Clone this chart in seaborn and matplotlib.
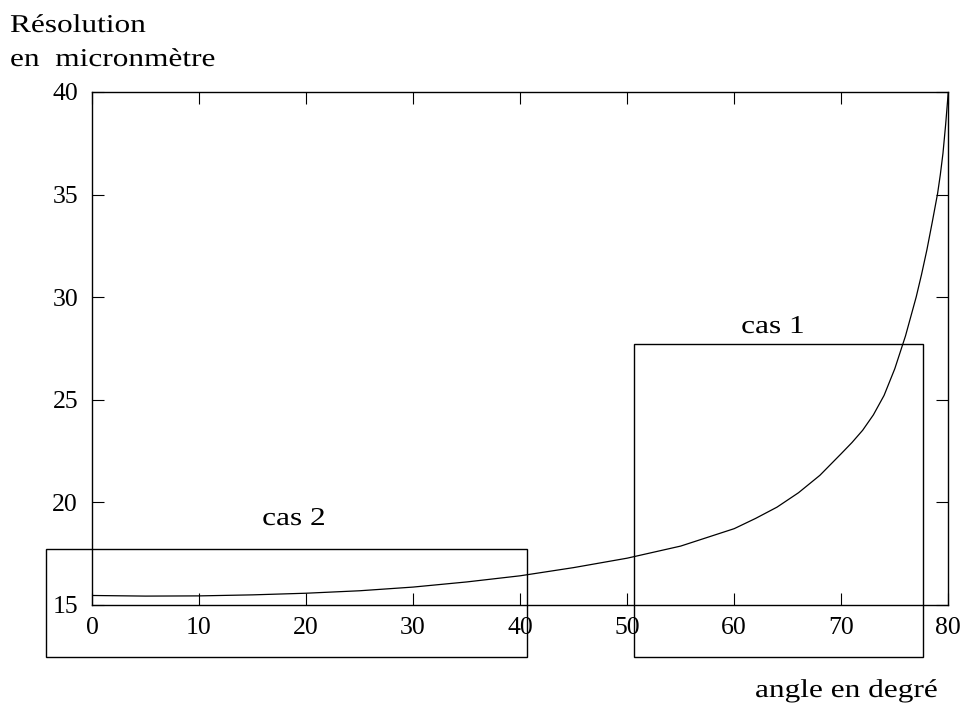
import matplotlib
matplotlib.use("Agg")
import matplotlib.pyplot as plt
import seaborn as sns
import pandas as pd
from matplotlib.patches import Rectangle
from matplotlib.patheffects import AbstractPathEffect
from matplotlib.transforms import Affine2D

# --- data ---
angle = [0, 5, 10, 15, 20, 25, 30, 35, 40, 45, 50, 55, 60, 62, 64, 66, 68,
         70, 71, 72, 73, 74, 75, 76, 77, 77.5, 78, 78.5, 79, 79.25, 79.5,
         79.75, 80]
resolution = [15.44, 15.41, 15.42, 15.47, 15.55, 15.67, 15.85, 16.10, 16.40,
              16.80, 17.26, 17.85, 18.70, 19.20, 19.75, 20.45, 21.30,
              22.36, 22.90, 23.50, 24.25, 25.20, 26.50, 28.10, 30.00,
              31.10, 32.30, 33.65, 35.05, 35.95, 37.00, 38.40, 40.00]
x_ticks = [0, 10, 20, 30, 40, 50, 60, 70, 80]
y_ticks = [15, 20, 25, 30, 35, 40]
# boxes (x0, x1, y0, y1) in data units
box_cas1 = [50.68, 77.6, 12.45, 27.69]
box_cas2 = [-4.3, 40.6, 12.45, 17.72]

df = pd.DataFrame({"angle": angle, "resolution": resolution})

sns.set_theme(style="white")
plt.rcParams["font.family"] = ["Liberation Serif", "DejaVu Serif"]


class HStretch(AbstractPathEffect):
    """Stretch glyphs horizontally around a fixed display x."""
    def __init__(self, sx, x0):
        super().__init__()
        self.sx = sx
        self.x0 = x0

    def draw_path(self, renderer, gc, tpath, affine, rgbFace=None):
        aff = affine + Affine2D().translate(-self.x0, 0).scale(self.sx, 1) \
            .translate(self.x0, 0)
        renderer.draw_path(gc, tpath, aff, rgbFace)


W, H = 967, 711
fig = plt.figure(figsize=(W / 100, H / 100), dpi=100)
ax = fig.add_axes([92 / W, 1 - 604.5 / H, (948.3 - 92) / W, (604.5 - 92) / H])

sns.lineplot(data=df, x="angle", y="resolution", ax=ax, color="black",
             linewidth=0.9, estimator=None, sort=True)

ax.set_xlim(0, 80)
ax.set_ylim(15, 40)
ax.set_xticks(x_ticks)
ax.set_yticks(y_ticks)
ax.set_xticklabels([str(t) for t in x_ticks])
ax.set_yticklabels([str(t) for t in y_ticks])
ax.set_xlabel("")
ax.set_ylabel("")
ax.grid(False)
for s in ax.spines.values():
    s.set_visible(True)
    s.set_color("black")
    s.set_linewidth(1.0)
ax.tick_params(axis="both", which="both", direction="in", length=8.6, width=0.8,
               color="black", labelsize=18.5, labelcolor="black",
               top=True, right=True, bottom=True, left=True)
ax.tick_params(axis="y", pad=10)
ax.tick_params(axis="x", pad=9)

for (x0, x1, y0, y1) in (box_cas1, box_cas2):
    ax.add_patch(Rectangle((x0, y0), x1 - x0, y1 - y0, fill=False,
                           edgecolor="black", linewidth=1.0, clip_on=False,
                           zorder=3))

SX = 1.22


def ftext(px, py, s, ha):
    fig.text(px / W, 1 - py / H, s, fontsize=18.5, color="black",
             va="baseline", ha=ha, path_effects=[HStretch(SX, px)])


ftext(10, 32, "Résolution", "left")
ftext(10, 66, "en  micronmètre", "left")
ftext(773, 333, "cas 1", "center")
ftext(294, 525, "cas 2", "center")
ftext(755, 697, "angle en degré", "left")

fig.savefig("out.png", dpi=100)
